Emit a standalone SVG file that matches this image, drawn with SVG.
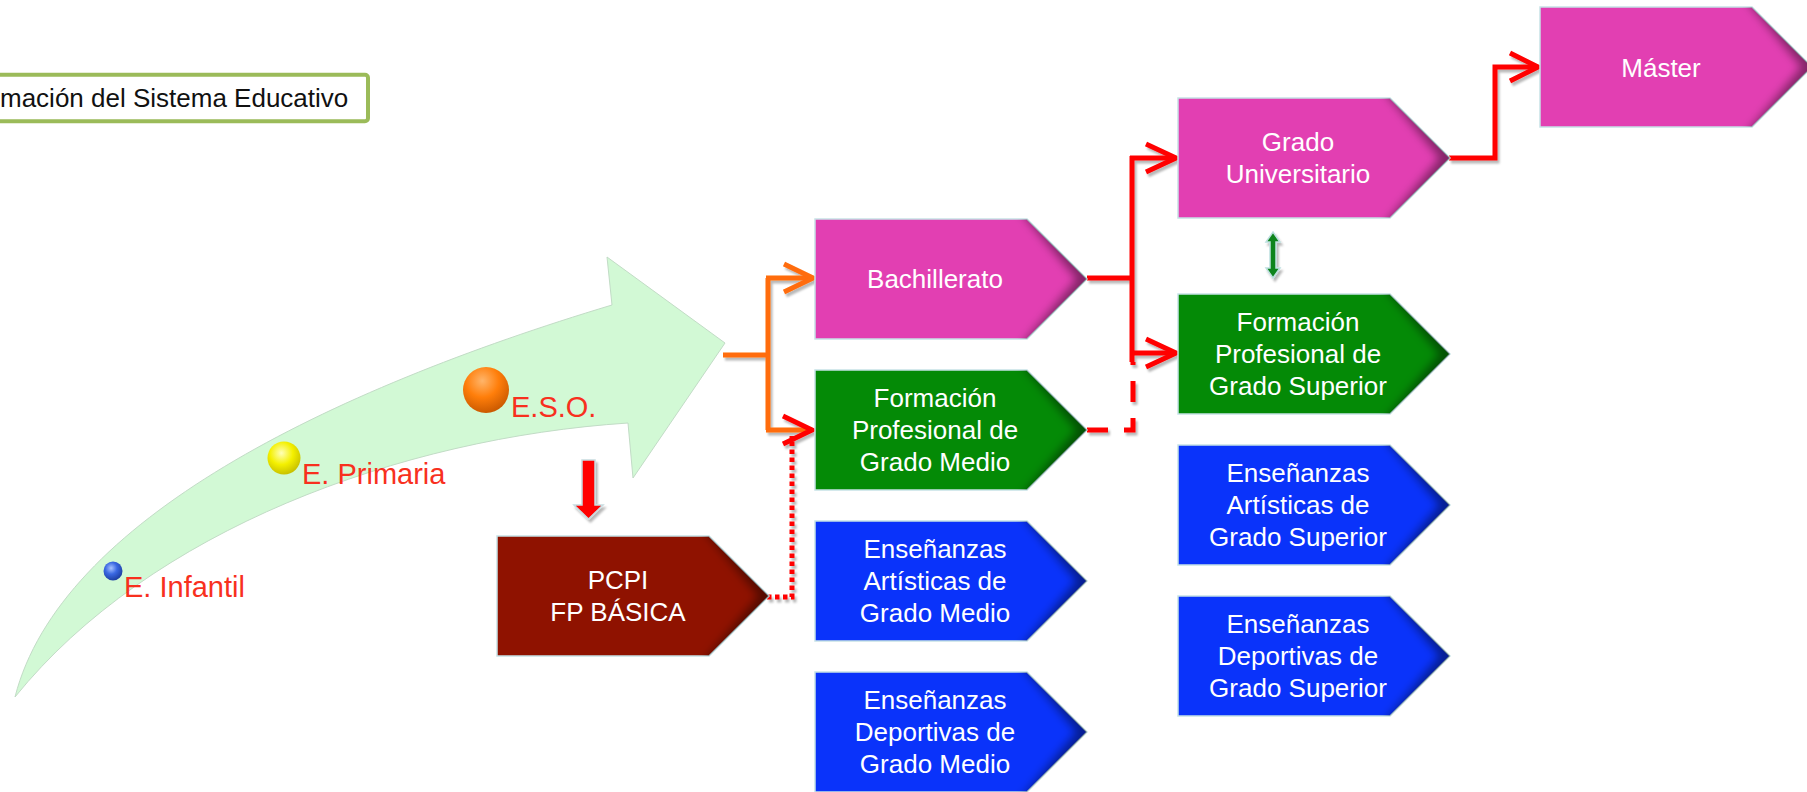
<svg xmlns="http://www.w3.org/2000/svg" xmlns:xlink="http://www.w3.org/1999/xlink" width="1807" height="792" viewBox="0 0 1807 792">
<style>
.shape{stroke:#C6E2E6;stroke-width:1.5}
.mag{fill:#E23FB2}
.grn{fill:#048A06}
.blu{fill:#0A33FA}
.drd{fill:#8F1200}
.lbl{font-family:"Liberation Sans",Arial,sans-serif;font-size:26px;fill:#FFFFFF;text-anchor:middle}
.stage{font-family:"Liberation Sans",Arial,sans-serif;font-size:29px;fill:#F8301E}
.conn{fill:none;stroke-width:5;stroke-linejoin:miter;stroke-linecap:butt}
.or{stroke:#FF6C0A}
.rd{stroke:#FF0000}
</style>
<defs>
  <clipPath id="pc"><polygon points="0,0 212,0 272,60 212,120 0,120"/></clipPath>
  <filter id="blur" filterUnits="userSpaceOnUse" x="150" y="-30" width="160" height="180"><feGaussianBlur stdDeviation="5"/></filter>
  <g id="node">
    <polygon class="shape" points="0,0 212,0 272,60 212,120 0,120"/>
    <polyline points="212,-12 272,60 212,132" fill="none" stroke="#000" stroke-opacity="0.42" stroke-width="16" filter="url(#blur)" clip-path="url(#pc)"/>
  </g>
  <filter id="sh" x="-10%" y="-10%" width="130%" height="130%"><feDropShadow dx="2" dy="3" stdDeviation="1.2" flood-color="#000" flood-opacity="0.28"/></filter>
  <radialGradient id="gBlue" cx="0.4" cy="0.35" r="0.7"><stop offset="0" stop-color="#A8C2FF"/><stop offset="0.45" stop-color="#3A68E2"/><stop offset="1" stop-color="#1A3A9A"/></radialGradient>
  <radialGradient id="gYel" cx="0.42" cy="0.35" r="0.7"><stop offset="0" stop-color="#FFFFB8"/><stop offset="0.5" stop-color="#F4F000"/><stop offset="1" stop-color="#C2BA00"/></radialGradient>
  <radialGradient id="gOra" cx="0.42" cy="0.3" r="0.72"><stop offset="0" stop-color="#FFB56A"/><stop offset="0.5" stop-color="#FF7E0A"/><stop offset="1" stop-color="#C85800"/></radialGradient>
</defs>
<rect width="1807" height="792" fill="#FFFFFF"/>

<g id="title">
  <rect x="-6" y="74.7" width="374" height="46.6" rx="3" fill="#FFFFFF" stroke="#9BBB59" stroke-width="4"/>
  <text x="0" y="107" font-family="'Liberation Sans',Arial,sans-serif" font-size="26" fill="#111111">mación del Sistema Educativo</text>
</g>

<g id="timeline">
  <path d="M15,697 C60,520 330,390 612,305 L607,257 L725,343 L633,478 L628,423 C400,438 150,530 15,697 Z" fill="#D2F9D5" stroke="#C2DCC6" stroke-width="1"/>
  <circle cx="113" cy="571" r="9.5" fill="url(#gBlue)"/>
  <circle cx="284" cy="458" r="16.5" fill="url(#gYel)"/>
  <circle cx="486" cy="390" r="23" fill="url(#gOra)"/>
  <text class="stage" x="124" y="597">E. Infantil</text>
  <text class="stage" x="302" y="484">E. Primaria</text>
  <text class="stage" x="511" y="417">E.S.O.</text>
  <polygon points="582,460 595,460 595,505 603,505 588.5,519 574,505 582,505" fill="#FF0000" stroke="#C8DCE0" stroke-width="1.5" filter="url(#sh)"/>
</g>

<g id="connectors" filter="url(#sh)">
  <path class="conn or" d="M723,355 H768 M768,278 V430 M766,278 H812 M766,430 H812"/>
  <path class="conn or" d="M784,264 L813,278 L784,292"/>
  <path class="conn rd" d="M1087,278 H1132 M1132,156 V362 M1130,158 H1174 M1130,353 H1174 M1449,158 H1495 V67 H1536"/>
  <path class="conn rd" d="M1146,144 L1176,158 L1146,172 M1146,339 L1176,353 L1146,367 M1510,53 L1538,67 L1510,81"/>
  <path class="conn rd" d="M1087,430 H1133 V362" stroke-dasharray="21 16"/>
  <path class="conn rd" d="M767,597 H792 V436" stroke-width="4.5" stroke-dasharray="4.5 3.5"/>
  <path class="conn rd" d="M783,416 L812,430 L783,444"/>
  <polygon points="1273,232 1280,242 1276,242 1276,268 1280,268 1273,278 1266,268 1270,268 1270,242 1266,242" fill="#10841C" stroke="#BDE0E0" stroke-width="1.5"/>
</g>

<g id="n-bachillerato" transform="translate(815,219)">
  <use xlink:href="#node" href="#node" class="mag"/>
  <text class="lbl" x="120" y="69">Bachillerato</text>
</g>
<g id="n-fp-medio" transform="translate(815,370)">
  <use xlink:href="#node" href="#node" class="grn"/>
  <text class="lbl" x="120" y="37">Formación</text>
  <text class="lbl" x="120" y="69">Profesional de</text>
  <text class="lbl" x="120" y="101">Grado Medio</text>
</g>
<g id="n-ea-medio" transform="translate(815,521)">
  <use xlink:href="#node" href="#node" class="blu"/>
  <text class="lbl" x="120" y="37">Enseñanzas</text>
  <text class="lbl" x="120" y="69">Artísticas de</text>
  <text class="lbl" x="120" y="101">Grado Medio</text>
</g>
<g id="n-ed-medio" transform="translate(815,672)">
  <use xlink:href="#node" href="#node" class="blu"/>
  <text class="lbl" x="120" y="37">Enseñanzas</text>
  <text class="lbl" x="120" y="69">Deportivas de</text>
  <text class="lbl" x="120" y="101">Grado Medio</text>
</g>
<g id="n-pcpi" transform="translate(497,536)">
  <use xlink:href="#node" href="#node" class="drd"/>
  <text class="lbl" x="121" y="53">PCPI</text>
  <text class="lbl" x="121" y="85">FP BÁSICA</text>
</g>
<g id="n-grado-univ" transform="translate(1178,98)">
  <use xlink:href="#node" href="#node" class="mag"/>
  <text class="lbl" x="120" y="53">Grado</text>
  <text class="lbl" x="120" y="85">Universitario</text>
</g>
<g id="n-fp-superior" transform="translate(1178,294)">
  <use xlink:href="#node" href="#node" class="grn"/>
  <text class="lbl" x="120" y="37">Formación</text>
  <text class="lbl" x="120" y="69">Profesional de</text>
  <text class="lbl" x="120" y="101">Grado Superior</text>
</g>
<g id="n-ea-superior" transform="translate(1178,445)">
  <use xlink:href="#node" href="#node" class="blu"/>
  <text class="lbl" x="120" y="37">Enseñanzas</text>
  <text class="lbl" x="120" y="69">Artísticas de</text>
  <text class="lbl" x="120" y="101">Grado Superior</text>
</g>
<g id="n-ed-superior" transform="translate(1178,596)">
  <use xlink:href="#node" href="#node" class="blu"/>
  <text class="lbl" x="120" y="37">Enseñanzas</text>
  <text class="lbl" x="120" y="69">Deportivas de</text>
  <text class="lbl" x="120" y="101">Grado Superior</text>
</g>
<g id="n-master" transform="translate(1540,7)">
  <use xlink:href="#node" href="#node" class="mag"/>
  <text class="lbl" x="121" y="70">Máster</text>
</g>
</svg>
